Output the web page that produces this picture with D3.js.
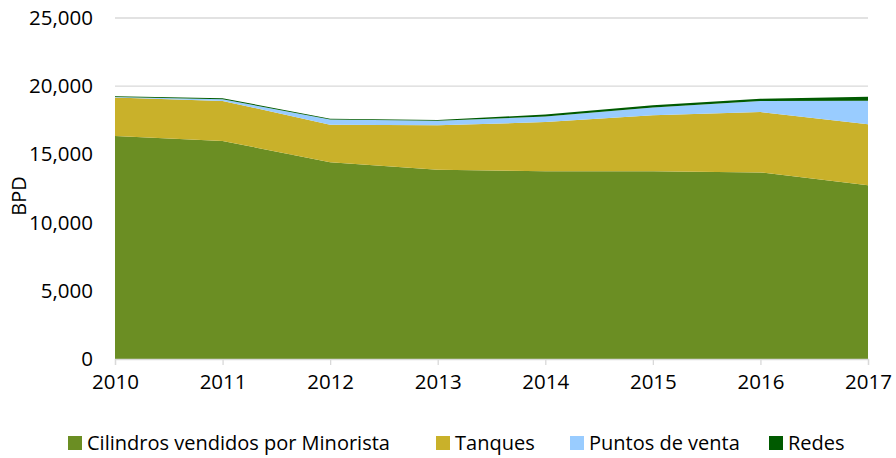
<!DOCTYPE html>
<html>
<head>
<style>
  html, body { margin: 0; padding: 0; background: #fff; overflow: hidden; }
  svg { display: block; }
</style>
</head>
<body>
<svg id="mainSvg" width="896" height="458"></svg>
<script src="https://d3js.org/d3.v7.min.js"></script>
<script>
  const years = [2010, 2011, 2012, 2013, 2014, 2015, 2016, 2017]
  const cilindros = [16350, 15980, 14430, 13880, 13770, 13760, 13680, 12740]
  const tanques = [2820, 2940, 2750, 3250, 3600, 4110, 4430, 4470]
  const puntos = [30, 130, 370, 330, 400, 560, 800, 1730]
  const redes = [60, 70, 70, 70, 150, 170, 170, 290]
  const seriesNames = ['Cilindros vendidos por Minorista', 'Tanques', 'Puntos de venta', 'Redes']
  const colors = ['#6b8e23', '#c9b12a', '#99ccff', '#005a00']
  const yTicks = [0, 5000, 10000, 15000, 20000, 25000]

  const font = '"Open Sans", sans-serif'
  const svg = d3.select('#mainSvg')
  const margin = { top: 18, right: 28, bottom: 100, left: 115 }
  const innerWidth = 868 - margin.left
  const innerHeight = 359 - margin.top

  const table = years.map((y, i) => ({
    year: y,
    [seriesNames[0]]: cilindros[i],
    [seriesNames[1]]: tanques[i],
    [seriesNames[2]]: puntos[i],
    [seriesNames[3]]: redes[i]
  }))
  const stacked = d3.stack().keys(seriesNames)(table)

  const xScale = d3.scaleLinear().domain([2010, 2017]).range([0, innerWidth])
  const yScale = d3.scaleLinear().domain([0, 25000]).range([innerHeight, 0])

  const g = svg.append('g').attr('transform', `translate(${margin.left}, ${margin.top})`)

  // gridlines
  g.selectAll('.grid').data(yTicks.slice(1)).join('line')
    .attr('x1', 0).attr('x2', innerWidth)
    .attr('y1', d => yScale(d)).attr('y2', d => yScale(d))
    .attr('stroke', '#d9d9d9').attr('stroke-width', 1.3)

  const area = d3.area()
    .x(d => xScale(d.data.year))
    .y0(d => yScale(d[0]))
    .y1(d => yScale(d[1]))

  g.selectAll('.layer').data(stacked).join('path')
    .attr('d', area)
    .attr('fill', (d, i) => colors[i])

  // x axis
  const xAxis = g.append('g').attr('transform', `translate(0, ${innerHeight})`)
    .call(d3.axisBottom(xScale).tickValues(years).tickFormat(d3.format('d')).tickSize(6).tickPadding(9))
    .attr('font-size', 20.5).attr('font-family', font)
  xAxis.select('.domain').attr('stroke', '#d9d9d9').attr('stroke-width', 1.3)
  xAxis.selectAll('.tick line').attr('stroke', '#d9d9d9').attr('stroke-width', 1.3)
  xAxis.selectAll('text').attr('fill', '#000')

  // y axis
  const yAxis = g.append('g')
    .call(d3.axisLeft(yScale).tickValues(yTicks).tickFormat(d3.format(',')).tickSize(0).tickPadding(22))
    .attr('font-size', 20.5).attr('font-family', font)
  yAxis.select('.domain').remove()
  yAxis.selectAll('text').attr('fill', '#000')

  svg.append('text')
    .attr('transform', `translate(26, 196) rotate(-90)`)
    .attr('text-anchor', 'middle')
    .attr('font-family', font)
    .attr('font-size', 20)
    .text('BPD')

  // legend
  const legendX = [68, 436, 570, 769]
  const legend = svg.append('g').attr('font-family', font).attr('font-size', 20)
    .selectAll('g').data(seriesNames).join('g')
    .attr('transform', (d, i) => `translate(${legendX[i]}, 443)`)
  legend.append('rect').attr('x', 0).attr('y', -7).attr('width', 14).attr('height', 14)
    .attr('fill', (d, i) => colors[i])
  legend.append('text').attr('x', 19).attr('dy', '0.35em').text(d => d)
</script>
</body>
</html>
